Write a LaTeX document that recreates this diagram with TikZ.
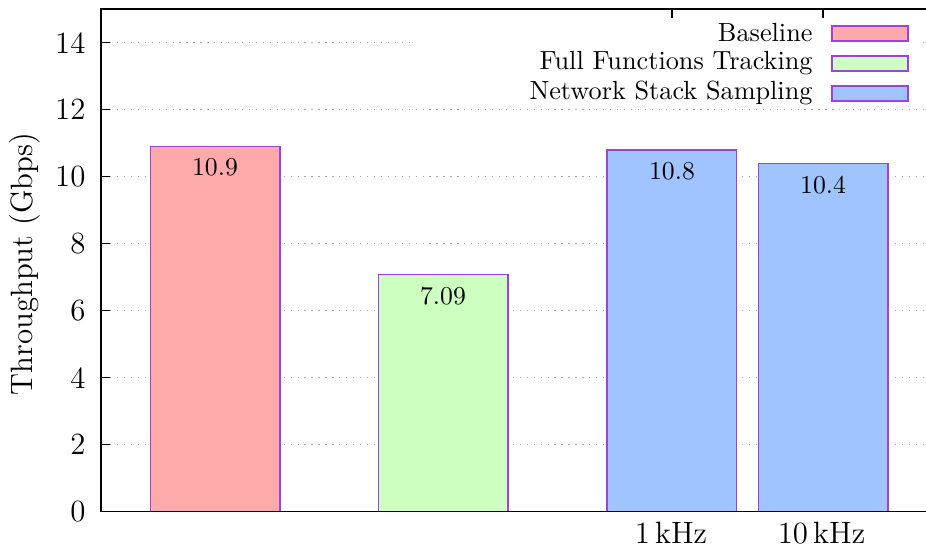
\documentclass[tikz,border=0pt]{standalone}
\begin{document}
\begin{tikzpicture}[x=0.3888pt,y=-0.3888pt,
  barbox/.style={draw=barline,line width=0.5pt},
  gridline/.style={gray!70,line width=0.5pt,dash pattern=on 0.5pt off 2.2pt},
  axisline/.style={black,line width=0.6pt},
  ticklab/.style={anchor=east,font=\large,inner sep=0pt},
  barlab/.style={font=\normalsize,inner sep=0pt},
  leglab/.style={anchor=east,font=\fontsize{10.2}{12}\selectfont,inner sep=0pt}]
\definecolor{barline}{RGB}{160,64,224}
\definecolor{cbase}{RGB}{255,170,170}
\definecolor{cfull}{RGB}{204,255,192}
\definecolor{cnet}{RGB}{160,196,255}
\useasboundingbox (0,0) rectangle (926,548);
% grid
\foreach \v in {2,4,...,12}{
  \draw[gridline] (110,{511.7-33.5*\v}) -- (926,{511.7-33.5*\v});
}
\draw[gridline] (110,{511.7-33.5*14}) -- (926,{511.7-33.5*14});
% legend background
\fill[white] (415,16) rectangle (922,104);
% bars
\draw[barbox,fill=cbase] (150.5,511.7) rectangle (280,{511.7-33.5*10.9});
\draw[barbox,fill=cfull] (378.5,511.7) rectangle (508,{511.7-33.5*7.09});
\draw[barbox,fill=cnet] (607,511.7) rectangle (736.5,{511.7-33.5*10.8});
\draw[barbox,fill=cnet] (758.5,511.7) rectangle (888,{511.7-33.5*10.4});
\node[barlab] (l1) at (215,{511.7-33.5*10.9+21}) {10.9};
\node[barlab] (l2) at (443,{511.7-33.5*7.09+22}) {7.09};
\node[barlab] (l3) at (672,{511.7-33.5*10.8+21}) {10.8};
\node[barlab] (l4) at (823,{511.7-33.5*10.4+22}) {10.4};
% axes
\draw[axisline] (926,9) -- (101,9) -- (101,511.7) -- (926,511.7);
\foreach \v in {0,2,...,14}{
  \draw[axisline] (101,{511.7-33.5*\v}) -- (110,{511.7-33.5*\v});
  \node[ticklab] (t\v) at (86,{511.7-33.5*\v}) {\v};
}
\draw[axisline] (672,9) -- (672,18);
\draw[axisline] (823,9) -- (823,18);
\node[font=\large,anchor=base] (x1) at (671,544) {1\,kHz};
\node[font=\large,anchor=base] (x2) at (821.5,544) {10\,kHz};
\node[font=\large,rotate=90] (yl) at (25,264) {Throughput (Gbps)};
% legend
\node[leglab] (g1) at (813,33) {Baseline};
\node[leglab] (g2) at (813,63) {Full Functions Tracking};
\node[leglab] (g3) at (813,93) {Network Stack Sampling};
\draw[barbox,fill=cbase] (832,26) rectangle (908,41);
\draw[barbox,fill=cfull] (832,56) rectangle (908,71);
\draw[barbox,fill=cnet] (832,86) rectangle (908,101);
\end{tikzpicture}
\end{document}
